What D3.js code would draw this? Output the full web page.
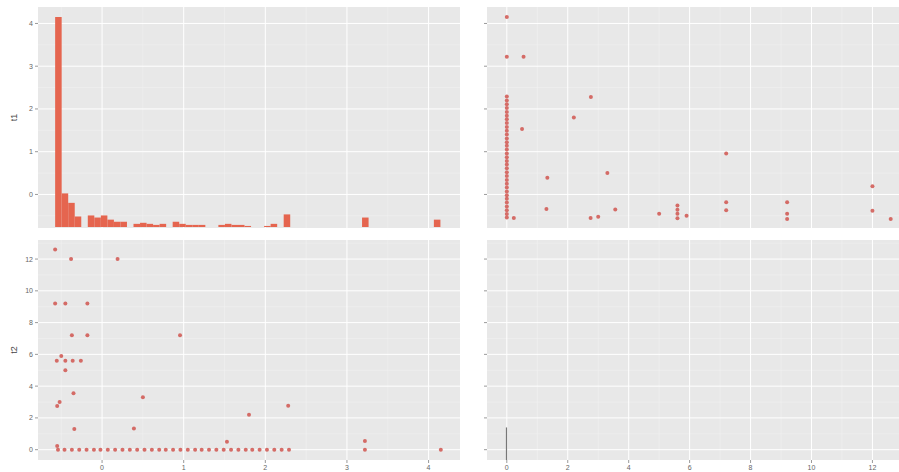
<!DOCTYPE html>
<html>
<head>
<meta charset="utf-8">
<script src="https://cdn.jsdelivr.net/npm/d3@7"></script>
<style>
  body { margin: 0; background: #fff; }
  svg { display: block; font-family: "Liberation Sans", Arial, sans-serif; }
</style>
</head>
<body>
<svg id="chart" width="899" height="472"></svg>
<script>
// variable names
const varNames = ["t1", "t2"];

// ticks
const t1Ticks = [0, 1, 2, 3, 4];
const t1Minor = [-0.5, 0.5, 1.5, 2.5, 3.5];
const t2Ticks = [0, 2, 4, 6, 8, 10, 12];
const t2Minor = [1, 3, 5, 7, 9, 11, 13];

// histogram of t1 (bin lower edge, count), bin width below
const binWidth = 0.08;
const histX0 = [-0.575, -0.495, -0.415, -0.335, -0.175, -0.095, -0.015, 0.065, 0.145, 0.225,
  0.385, 0.465, 0.545, 0.625, 0.705, 0.865, 0.945, 1.025, 1.105, 1.185,
  1.425, 1.505, 1.585, 1.665, 1.745, 1.985, 2.065, 2.225, 3.185, 4.065];
const histCount = [200, 32, 23, 10, 11, 9, 11, 7, 5, 5,
  3, 4, 3, 2, 3, 5, 3, 2, 2, 2,
  2, 3, 2, 2, 1, 1, 3, 12, 9, 7];

// scatter points (t1, t2)
const t1 = [-0.575, -0.38, 0.19, -0.575, -0.45, -0.18, -0.37, -0.18, 0.955, -0.555,
  -0.45, -0.36, -0.26, -0.45, -0.35, -0.55, -0.52, 0.5, 2.28, 1.8,
  -0.34, 0.39, 1.53, 3.22, -0.55, -0.5,
  -0.54, -0.46, -0.37, -0.28, -0.19, -0.1, -0.02, 0.07, 0.16, 0.25, 0.34, 0.43,
  0.52, 0.61, 0.70, 0.78, 0.87, 0.96, 1.05, 1.14, 1.22, 1.31, 1.40, 1.49,
  1.58, 1.67, 1.76, 1.84, 1.93, 2.02, 2.11, 2.20, 2.29, 3.22, 4.15];
const t2 = [12.6, 12.0, 12.0, 9.2, 9.2, 9.2, 7.2, 7.2, 7.2, 5.6,
  5.6, 5.6, 5.6, 5.0, 3.56, 2.75, 3.0, 3.3, 2.76, 2.2,
  1.3, 1.33, 0.5, 0.55, 0.23, 5.9,
  0, 0, 0, 0, 0, 0, 0, 0, 0, 0, 0, 0,
  0, 0, 0, 0, 0, 0, 0, 0, 0, 0, 0, 0,
  0, 0, 0, 0, 0, 0, 0, 0, 0, 0, 0];

// diagonal of t2 (only a sliver near zero)
const t2DiagX = [-0.03];
const t2DiagTop = [1.4];

const svg = d3.select("#chart");

const cols = [[38, 460], [487, 909]];
const rows = [[7, 228], [240, 460]];

const x1 = d3.scaleLinear().domain([-0.785, 4.385]).range(cols[0]);
const x2 = d3.scaleLinear().domain([-0.65, 13.2]).range(cols[1]);
const y1 = d3.scaleLinear().domain([-0.785, 4.385]).range([rows[0][1], rows[0][0]]);
const y2 = d3.scaleLinear().domain([-0.65, 13.2]).range([rows[1][1], rows[1][0]]);
const yCount = d3.scaleLinear().domain([0, 200]).range([227, 17]);

const fillCol = "#E5654F";
const pointCol = "#D0554F";

function panel(xs, ys, xMajor, xMinor, yMajor, yMinor) {
  const g = svg.append("g");
  const [xa, xb] = xs.range();
  const [yb, ya] = ys.range();
  g.append("rect")
    .attr("x", xa).attr("y", ya)
    .attr("width", xb - xa).attr("height", yb - ya)
    .attr("fill", "#e8e8e8");
  g.selectAll("line.ymin").data(yMinor.filter(d => ys(d) > ya && ys(d) < yb)).join("line")
    .attr("x1", xa).attr("x2", xb).attr("y1", d => ys(d)).attr("y2", d => ys(d))
    .attr("stroke", "#f3f3f3").attr("stroke-width", 0.5);
  g.selectAll("line.xmin").data(xMinor.filter(d => xs(d) > xa && xs(d) < xb)).join("line")
    .attr("y1", ya).attr("y2", yb).attr("x1", d => xs(d)).attr("x2", d => xs(d))
    .attr("stroke", "#f3f3f3").attr("stroke-width", 0.5);
  g.selectAll("line.ymaj").data(yMajor).join("line")
    .attr("x1", xa).attr("x2", xb).attr("y1", d => ys(d)).attr("y2", d => ys(d))
    .attr("stroke", "#fff").attr("stroke-width", 1);
  g.selectAll("line.xmaj").data(xMajor).join("line")
    .attr("y1", ya).attr("y2", yb).attr("x1", d => xs(d)).attr("x2", d => xs(d))
    .attr("stroke", "#fff").attr("stroke-width", 1);
  return g;
}

// panels
const pTL = panel(x1, y1, t1Ticks, t1Minor, t1Ticks, t1Minor);
const pTR = panel(x2, y1, t2Ticks, t2Minor, t1Ticks, t1Minor);
const pBL = panel(x1, y2, t1Ticks, t1Minor, t2Ticks, t2Minor);
const pBR = panel(x2, y2, t2Ticks, t2Minor, t2Ticks, t2Minor);

// histogram
pTL.selectAll("rect.bar").data(histX0).join("rect")
  .attr("x", d => x1(d))
  .attr("width", d => x1(d + binWidth) - x1(d))
  .attr("y", (d, i) => yCount(histCount[i]))
  .attr("height", (d, i) => yCount(0) - yCount(histCount[i]))
  .attr("fill", fillCol);

// scatter TR (x = t2, y = t1)
pTR.selectAll("circle").data(d3.range(t1.length)).join("circle")
  .attr("cx", i => x2(t2[i]))
  .attr("cy", i => y1(t1[i]))
  .attr("r", 2)
  .attr("fill", pointCol)
  .attr("fill-opacity", 0.85);

// scatter BL (x = t1, y = t2)
pBL.selectAll("circle").data(d3.range(t1.length)).join("circle")
  .attr("cx", i => x1(t1[i]))
  .attr("cy", i => y2(t2[i]))
  .attr("r", 2)
  .attr("fill", pointCol)
  .attr("fill-opacity", 0.85);

// diagonal t2
pBR.selectAll("rect.bar").data(t2DiagX).join("rect")
  .attr("x", d => x2(d))
  .attr("width", 1.2)
  .attr("y", (d, i) => y2(t2DiagTop[i]))
  .attr("height", (d, i) => y2(-0.65) - y2(t2DiagTop[i]))
  .attr("fill", "#777");

// axes
const tickCol = "#555";
const labCol = "#666";

function yAxis(ys, ticks, x, labels) {
  const g = svg.append("g");
  g.selectAll("line").data(ticks).join("line")
    .attr("x1", x - 3).attr("x2", x).attr("y1", d => ys(d)).attr("y2", d => ys(d))
    .attr("stroke", tickCol).attr("stroke-width", 0.6);
  if (labels) {
    g.selectAll("text").data(ticks).join("text")
      .attr("x", x - 5).attr("y", d => ys(d))
      .attr("dy", "0.35em").attr("text-anchor", "end")
      .attr("font-size", 7).attr("fill", labCol)
      .text(d => d);
  }
}

function xAxis(xs, ticks, y) {
  const g = svg.append("g");
  g.selectAll("line").data(ticks).join("line")
    .attr("y1", y).attr("y2", y + 3).attr("x1", d => xs(d)).attr("x2", d => xs(d))
    .attr("stroke", tickCol).attr("stroke-width", 0.6);
  g.selectAll("text").data(ticks).join("text")
    .attr("x", d => xs(d)).attr("y", y + 10)
    .attr("text-anchor", "middle")
    .attr("font-size", 7).attr("fill", labCol)
    .text(d => d);
}

yAxis(y1, t1Ticks, cols[0][0], true);
yAxis(y2, t2Ticks, cols[0][0], true);
yAxis(y1, t1Ticks, cols[1][0], false);
yAxis(y2, t2Ticks, cols[1][0], false);
xAxis(x1, t1Ticks, rows[1][1]);
xAxis(x2, t2Ticks, rows[1][1]);

// axis titles
svg.selectAll("text.title").data(varNames).join("text")
  .attr("class", "title")
  .attr("transform", (d, i) => `translate(17,${(rows[i][0] + rows[i][1]) / 2}) rotate(-90)`)
  .attr("text-anchor", "middle")
  .attr("font-size", 9).attr("fill", "#444")
  .text(d => d);
</script>
</body>
</html>
